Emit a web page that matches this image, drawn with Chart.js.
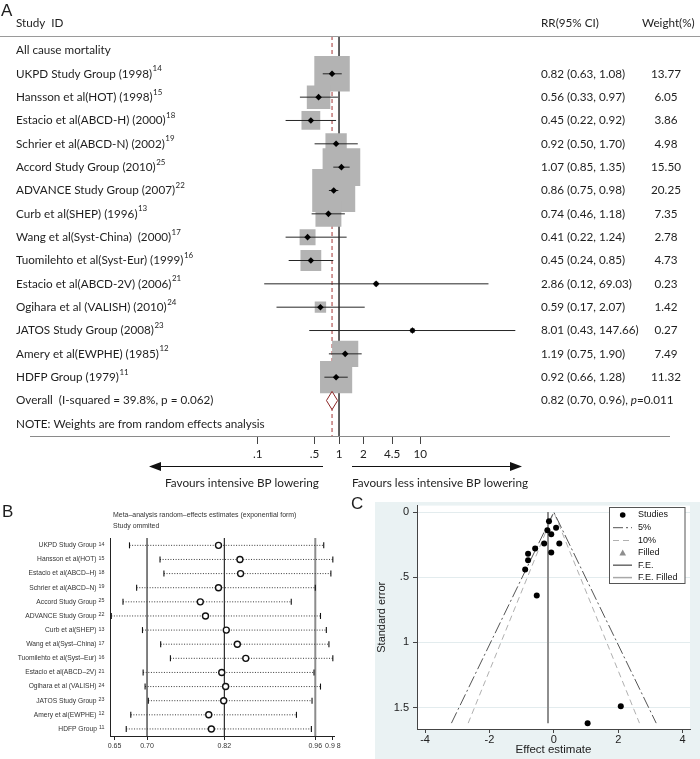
<!DOCTYPE html>
<html><head><meta charset="utf-8">
<script src="https://cdn.jsdelivr.net/npm/chart.js@4.4.1/dist/chart.umd.min.js"></script>
<style>
html,body{margin:0;padding:0;background:#fff;}
#wrap{position:relative;width:700px;height:759px;overflow:hidden;background:#fff;}
canvas{position:absolute;display:block;}
</style></head><body>
<div id="wrap">
<canvas id="ca" width="700" height="495" style="left:0;top:0"></canvas>
<canvas id="cb" width="345" height="264" style="left:0;top:495px"></canvas>
<canvas id="cc" width="355" height="264" style="left:345px;top:495px"></canvas>
</div>
<script>
// ---------------- DATA ----------------
// Panel A: forest plot
const studies = ['UKPD Study Group (1998)','Hansson et al(HOT) (1998)','Estacio et al(ABCD-H) (2000)','Schrier et al(ABCD-N) (2002)','Accord Study Group (2010)','ADVANCE Study Group (2007)','Curb et al(SHEP) (1996)','Wang et al(Syst-China)  (2000)','Tuomilehto et al(Syst-Eur) (1999)','Estacio et al(ABCD-2V) (2006)','Ogihara et al (VALISH) (2010)','JATOS Study Group (2008)','Amery et al(EWPHE) (1985)','HDFP Group (1979)'];
const refs = ['14','15','18','19','25','22','13','17','16','21','24','23','12','11'];
const rr = [0.82,0.56,0.45,0.92,1.07,0.86,0.74,0.41,0.45,2.86,0.59,8.01,1.19,0.92];
const rrLow = [0.63,0.33,0.22,0.50,0.85,0.75,0.46,0.22,0.24,0.12,0.17,0.43,0.75,0.66];
const rrHigh = [1.08,0.97,0.92,1.70,1.35,0.98,1.18,1.24,0.85,69.03,2.07,147.66,1.90,1.28];
const weights = [13.77,6.05,3.86,4.98,15.50,20.25,7.35,2.78,4.73,0.23,1.42,0.27,7.49,11.32];
const overallRR = 0.82, overallLow = 0.70, overallHigh = 0.96, overallP = '0.011';
const overallLabel = 'Overall  (I-squared = 39.8%, p = 0.062)';
const groupLabel = 'All cause mortality';
const noteLabel = 'NOTE: Weights are from random effects analysis';
const colHeaders = ['Study  ID','RR(95% CI)','Weight(%)'];
const forestTicks = [0.1,0.5,1,2,4.5,10];
const forestTickLabels = ['.1','.5','1','2','4.5','10'];
const favourLabels = ['Favours intensive BP lowering','Favours less intensive BP lowering'];

// Panel B: leave-one-out sensitivity
const omitLabels = ['UKPD Study Group','Hansson et al(HOT)','Estacio et al(ABCD\u2013H)','Schrier et al(ABCD\u2013N)','Accord Study Group','ADVANCE Study Group','Curb et al(SHEP)','Wang et al(Syst\u2013China)','Tuomilehto et al(Syst\u2013Eur)','Estacio et al(ABCD\u20132V)','Ogihara et al (VALISH)','JATOS Study Group','Amery et al(EWPHE)','HDFP Group'];
const omitEst  = [0.811,0.844,0.845,0.811,0.783,0.791,0.823,0.840,0.853,0.816,0.822,0.819,0.796,0.800];
const omitLow  = [0.674,0.721,0.727,0.685,0.664,0.646,0.694,0.722,0.737,0.695,0.698,0.703,0.676,0.669];
const omitHigh = [0.973,0.987,0.984,0.960,0.923,0.968,0.977,0.981,0.987,0.958,0.968,0.955,0.931,0.954];
const sensRefLines = [0.701,0.820,0.960];
const sensTicks = [0.651,0.701,0.820,0.960,0.987];
const sensTickLabels = ['0.65','0.70','0.82','0.96','0.9 8'];
const sensTitle = ['Meta\u2013analysis random\u2013effects estimates (exponential form)','Study ommited'];

// Panel C: funnel plot
const funnelEffect = [-0.20,-0.58,-0.80,-0.08,0.07,-0.15,-0.30,-0.89,-0.80,1.05,-0.53,2.08,0.17,-0.08];
const funnelSE     = [0.14,0.28,0.37,0.31,0.12,0.07,0.24,0.44,0.32,1.62,0.64,1.49,0.24,0.17];
const contour5X  = [-3.18,0,3.18];
const contour10X = [-2.66,0,2.66];
const contourSE  = [1.62,0,1.62];
const fixedEffect = -0.18;
const fixedSE = [0,1.62];
const funnelXTicks = [-4,-2,0,2,4];
const funnelYTicks = [0,0.5,1,1.5];
const funnelYTickLabels = ['0','.5','1','1.5'];
const funnelLegend = ['Studies','5%','10%','Filled','F.E.','F.E. Filled'];

// ---------------- STYLE HELPERS ----------------
const FA = "Lato, 'Open Sans', sans-serif";
const SANS = "'Liberation Sans', Arial, sans-serif";
function fit(family, text, target, weight){
  const c = document.createElement('canvas').getContext('2d');
  c.font = (weight||'') + ' 100px ' + family;
  return 100 * target / c.measureText(text).width;
}
const fA = fit(FA, noteLabel, 249);
const fFav = fit(FA, favourLabels[0], 154);
const fBl = fit(SANS, omitLabels[8], 79);
const fBt = fit(SANS, sensTitle[0], 184);
const baseOpts = {responsive:false, animation:false, events:[], plugins:{legend:{display:false}, tooltip:{enabled:false}}};

// ---------------- PANEL A ----------------
const A_MIN = -0.62, A_MAX = 16.52;
const aDatasets = [];
aDatasets.push({data:[{x:1,y:A_MIN},{x:1,y:A_MAX}], showLine:true, borderColor:'#4a4a4a', borderWidth:1, pointRadius:0, order:6});
aDatasets.push({data:[{x:overallRR,y:A_MIN},{x:overallRR,y:A_MAX}], showLine:true, borderColor:'#a33434', borderDash:[4,3], borderWidth:1, pointRadius:0, order:6});
aDatasets.push({data:rr.map((v,i)=>({x:v,y:i+1})), pointStyle:'rect', pointRadius:c=>6.76*Math.sqrt(weights[c.dataIndex]), pointBackgroundColor:'#b3b3b3', pointBorderWidth:0, order:4});
rr.forEach((v,i)=>{
  aDatasets.push({data:[{x:rrLow[i],y:i+1},{x:rrHigh[i],y:i+1}], showLine:true, borderColor:'#262626', borderWidth:1, pointRadius:0, order:1});
});
aDatasets.push({data:rr.map((v,i)=>({x:v,y:i+1})), pointStyle:'rectRot', pointRadius:3.3, pointBackgroundColor:'#000', pointBorderWidth:0, order:0});
aDatasets.push({data:[{x:overallLow,y:15},{x:overallRR,y:15-0.39},{x:overallHigh,y:15},{x:overallRR,y:15+0.39},{x:overallLow,y:15}], showLine:true, fill:'shape', backgroundColor:'#fff', borderColor:'#8b2525', borderWidth:1, pointRadius:0, tension:0, order:2});

const forestText = {
  id:'forestText',
  afterDraw(chart){
    const ctx = chart.ctx, ys = chart.scales.y;
    const yp = r => ys.getPixelForValue(r);
    ctx.save();
    ctx.fillStyle = '#1e1e1e'; ctx.textBaseline = 'middle'; ctx.textAlign = 'left';
    ctx.font = '17px ' + SANS; ctx.fillText('A', 1, 11);
    ctx.font = fA + 'px ' + FA;
    ctx.fillText(colHeaders[0], 16, 23);
    ctx.fillText(colHeaders[1], 541, 23);
    ctx.fillText(colHeaders[2], 642, 23);
    ctx.strokeStyle = '#9a9a9a'; ctx.lineWidth = 1;
    ctx.beginPath(); ctx.moveTo(0,36.5); ctx.lineTo(700,36.5); ctx.stroke();
    ctx.fillText(groupLabel, 16, yp(0));
    studies.forEach((s,i)=>{
      const y = yp(i+1);
      ctx.font = fA + 'px ' + FA;
      ctx.fillText(s, 16, y);
      const w = ctx.measureText(s).width;
      ctx.fillText(rr[i].toFixed(2)+' ('+rrLow[i].toFixed(2)+', '+rrHigh[i].toFixed(2)+')', 541, y);
      ctx.textAlign = 'center'; ctx.fillText(weights[i].toFixed(2), 666, y); ctx.textAlign = 'left';
      ctx.font = (fA*0.68) + 'px ' + FA;
      ctx.fillText(refs[i], 16 + w + 0.5, y - 5);
    });
    ctx.font = fA + 'px ' + FA;
    const yo = yp(15);
    ctx.fillText(overallLabel, 16, yo);
    const t1 = overallRR.toFixed(2)+' ('+overallLow.toFixed(2)+', '+overallHigh.toFixed(2)+'), ';
    ctx.fillText(t1, 541, yo);
    let x = 541 + ctx.measureText(t1).width;
    ctx.font = 'italic ' + fA + 'px ' + FA; ctx.fillText('p', x, yo);
    x += ctx.measureText('p').width;
    ctx.font = fA + 'px ' + FA; ctx.fillText('='+overallP, x, yo);
    ctx.fillText(noteLabel, 16, yp(16));
    // arrows
    ctx.strokeStyle = '#111'; ctx.fillStyle = '#111'; ctx.lineWidth = 1.2;
    ctx.beginPath(); ctx.moveTo(323,466.5); ctx.lineTo(158,466.5); ctx.stroke();
    ctx.beginPath(); ctx.moveTo(149,466.5); ctx.lineTo(161,462); ctx.lineTo(161,471); ctx.closePath(); ctx.fill();
    ctx.beginPath(); ctx.moveTo(352,466.5); ctx.lineTo(513,466.5); ctx.stroke();
    ctx.beginPath(); ctx.moveTo(522,466.5); ctx.lineTo(510,462); ctx.lineTo(510,471); ctx.closePath(); ctx.fill();
    ctx.fillStyle = '#1e1e1e';
    ctx.font = fFav + 'px ' + FA;
    ctx.fillText(favourLabels[0], 165, 483);
    ctx.fillText(favourLabels[1], 352, 483);
    ctx.restore();
  }
};

new Chart(document.getElementById('ca'), {
  type:'scatter',
  data:{datasets:aDatasets},
  options:Object.assign({}, baseOpts, {
    layout:{padding:{top:36,left:0,right:0,bottom:0}},
    scales:{
      x:{type:'logarithmic', min:Math.pow(10,-338/89), max:Math.pow(10,362/89),
        afterBuildTicks:s=>{s.ticks = forestTicks.map(v=>({value:v}));},
        ticks:{callback:(v,i)=>forestTickLabels[i], autoSkip:false, maxRotation:0, minRotation:0, padding:3, color:'#222', font:{family:FA, size:fA}},
        grid:{display:true, drawOnChartArea:false, drawTicks:true, tickLength:8, color:'#444', lineWidth:1},
        border:{display:true, color:'#8a8a8a', width:1},
        afterFit:s=>{s.height = 59;}},
      y:{type:'linear', display:false, reverse:true, min:A_MIN, max:A_MAX}
    }
  }),
  plugins:[forestText]
});

// ---------------- PANEL B ----------------
const B_MIN = -0.52, B_MAX = 13.5;
const bDatasets = [];
sensRefLines.forEach((v,k)=>{
  bDatasets.push({data:[{x:v,y:B_MIN},{x:v,y:B_MAX}], showLine:true, borderColor: k===2?'#8c8c8c':'#1a1a1a', borderWidth: k===2?2:1.1, pointRadius:0, order:5});
});
omitEst.forEach((v,i)=>{
  bDatasets.push({data:[{x:omitLow[i],y:i},{x:omitHigh[i],y:i}], showLine:true, borderColor:'#3a3a3a', borderWidth:1, borderDash:[1,1.6],
    pointStyle:'line', pointRotation:90, pointRadius:3, pointBorderColor:'#111', pointBorderWidth:1.1, order:2});
});
bDatasets.push({data:omitEst.map((v,i)=>({x:v,y:i})), pointStyle:'circle', pointRadius:3, pointBackgroundColor:'#fff', pointBorderColor:'#111', pointBorderWidth:1.4, order:0});

const sensText = {
  id:'sensText',
  afterDraw(chart){
    const ctx = chart.ctx, ys = chart.scales.y;
    ctx.save();
    ctx.fillStyle = '#1e1e1e'; ctx.textBaseline = 'middle'; ctx.textAlign = 'left';
    ctx.font = '17px ' + SANS; ctx.fillText('B', 2, 17);
    ctx.fillStyle = '#333';
    ctx.font = fBt + 'px ' + SANS;
    ctx.fillText(sensTitle[0], 113, 20);
    ctx.fillText(sensTitle[1], 113, 31);
    omitLabels.forEach((s,i)=>{
      const y = ys.getPixelForValue(i);
      ctx.textAlign = 'right';
      ctx.font = (fBl*0.8) + 'px ' + SANS;
      ctx.fillText(refs[i], 104.5, y - 1);
      const sw = ctx.measureText(refs[i]).width;
      ctx.font = fBl + 'px ' + SANS;
      ctx.fillText(s, 104.5 - sw - 2, y);
    });
    ctx.restore();
  }
};

new Chart(document.getElementById('cb'), {
  type:'scatter',
  data:{datasets:bDatasets},
  options:Object.assign({}, baseOpts, {
    layout:{padding:{top:43,left:0,right:11,bottom:0}},
    scales:{
      x:{type:'linear', min:0.644, max:0.9888,
        afterBuildTicks:s=>{s.ticks = sensTicks.map(v=>({value:v}));},
        ticks:{callback:(v,i)=>sensTickLabels[i], autoSkip:false, maxRotation:0, padding:2, color:'#333', font:{family:SANS, size:7}},
        grid:{display:true, drawOnChartArea:false, drawTicks:true, tickLength:4, color:'#222'},
        border:{display:true, color:'#222', width:1},
        afterFit:s=>{s.height = 23;}},
      y:{type:'linear', reverse:true, min:B_MIN, max:B_MAX,
        ticks:{display:false}, grid:{display:false, drawTicks:false},
        border:{display:true, color:'#222', width:1},
        afterFit:s=>{s.width = 110;}}
    }
  }),
  plugins:[sensText]
});

// ---------------- PANEL C ----------------
const cDatasets = [
  {data:funnelEffect.map((v,i)=>({x:v,y:funnelSE[i]})), pointStyle:'circle', pointRadius:3, pointBackgroundColor:'#000', pointBorderWidth:0, order:0},
  {data:contour5X.map((v,i)=>({x:v,y:contourSE[i]})), showLine:true, borderColor:'#555', borderWidth:1, borderDash:[12,3,2,3], pointRadius:0, order:3},
  {data:contour10X.map((v,i)=>({x:v,y:contourSE[i]})), showLine:true, borderColor:'#b0b0b0', borderWidth:1, borderDash:[6,4], pointRadius:0, order:3},
  {data:fixedSE.map(s=>({x:fixedEffect,y:s})), showLine:true, borderColor:'#8e8e8e', borderWidth:2, pointRadius:0, order:2}
];

const funnelDeco = {
  id:'funnelDeco',
  beforeDraw(chart){
    const ctx = chart.ctx, a = chart.chartArea;
    ctx.save();
    ctx.fillStyle = '#eaf2f3'; ctx.fillRect(30,7,325,257);
    ctx.fillStyle = '#ffffff'; ctx.fillRect(a.left, a.top, a.right-a.left, a.bottom-a.top);
    ctx.restore();
  },
  afterDraw(chart){
    const ctx = chart.ctx;
    ctx.save();
    ctx.fillStyle = '#1e1e1e'; ctx.textBaseline = 'middle'; ctx.textAlign = 'left';
    ctx.font = '17px ' + SANS; ctx.fillText('C', 6, 9);
    // legend box
    ctx.fillStyle = '#fff'; ctx.fillRect(264.5,12.5,75.5,76);
    ctx.strokeStyle = '#555'; ctx.lineWidth = 1; ctx.strokeRect(264.5,12.5,75.5,76);
    const ly = [20,32.7,45.5,57.8,70.2,82.6];
    ctx.fillStyle = '#000'; ctx.beginPath(); ctx.arc(277.7,ly[0],2.8,0,Math.PI*2); ctx.fill();
    const seg = (y,col,w,dash)=>{ctx.strokeStyle=col; ctx.lineWidth=w; ctx.setLineDash(dash); ctx.beginPath(); ctx.moveTo(268,y); ctx.lineTo(287,y); ctx.stroke(); ctx.setLineDash([]);};
    seg(ly[1],'#555',1,[10,3,2,3]);
    seg(ly[2],'#b0b0b0',1,[6,4]);
    ctx.fillStyle = '#8e8e8e'; ctx.beginPath(); ctx.moveTo(277.7,ly[3]-3.2); ctx.lineTo(281,ly[3]+2.6); ctx.lineTo(274.4,ly[3]+2.6); ctx.closePath(); ctx.fill();
    seg(ly[4],'#6a6a6a',1.5,[]);
    seg(ly[5],'#a8a8a8',1.5,[]);
    ctx.fillStyle = '#111'; ctx.font = '9px ' + SANS;
    funnelLegend.forEach((t,i)=>ctx.fillText(t, 293, ly[i]));
    ctx.restore();
  }
};

new Chart(document.getElementById('cc'), {
  type:'scatter',
  data:{datasets:cDatasets},
  options:Object.assign({}, baseOpts, {
    layout:{padding:{top:8,left:30,right:10,bottom:0}},
    scales:{
      x:{type:'linear', min:-4.25, max:4.23,
        afterBuildTicks:s=>{s.ticks = funnelXTicks.map(v=>({value:v}));},
        ticks:{autoSkip:false, maxRotation:0, padding:0, color:'#222', font:{family:SANS, size:11}},
        grid:{display:true, drawOnChartArea:false, drawTicks:true, tickLength:4, color:'#444'},
        border:{display:true, color:'#444', width:1},
        title:{display:true, text:'Effect estimate', color:'#222', font:{family:SANS, size:11.5}, padding:{top:0,bottom:2}},
        afterFit:s=>{s.height = 30;}},
      y:{type:'linear', reverse:true, min:-0.05, max:1.665,
        afterBuildTicks:s=>{s.ticks = funnelYTicks.map(v=>({value:v}));},
        ticks:{callback:(v,i)=>funnelYTickLabels[i], autoSkip:false, padding:4, color:'#222', font:{family:SANS, size:11}},
        grid:{display:true, drawOnChartArea:true, drawTicks:true, tickLength:4, color:'#e3ecee', tickColor:'#444'},
        border:{display:true, color:'#444', width:1},
        title:{display:true, text:'Standard error', color:'#222', font:{family:SANS, size:11}, padding:{top:0,bottom:0}},
        afterFit:s=>{s.width = 42;}}
    }
  }),
  plugins:[funnelDeco]
});
</script>
</body></html>
